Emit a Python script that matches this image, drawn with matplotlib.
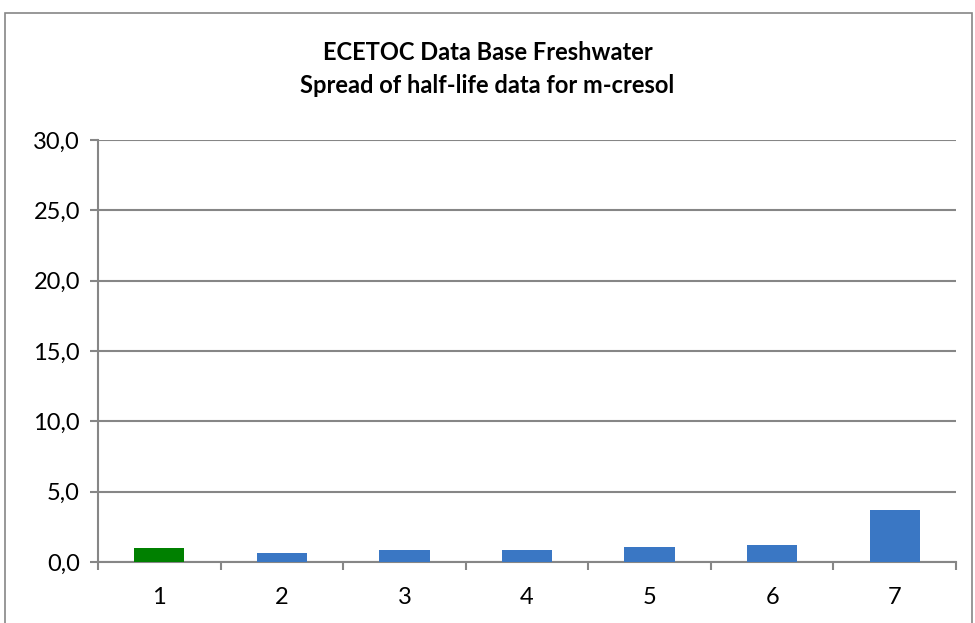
import matplotlib
matplotlib.use("Agg")
import matplotlib.pyplot as plt
from matplotlib.patches import Rectangle
from matplotlib.ticker import FuncFormatter

categories = ["1", "2", "3", "4", "5", "6", "7"]
half_life = [1.0, 0.62, 0.84, 0.84, 1.05, 1.2, 3.7]
bar_colors = ["#008000", "#3A77C4", "#3A77C4", "#3A77C4", "#3A77C4", "#3A77C4", "#3A77C4"]
y_ticks = [0, 5, 10, 15, 20, 25, 30]

plt.rcParams["font.family"] = ["Lato", "DejaVu Sans"]

fig = plt.figure(figsize=(9.75, 6.23), dpi=100)
ax = fig.add_axes([0.1005, 0.098, 0.88, 0.677])

# outer chart border
fig.patches.append(Rectangle((5 / 975, -0.01), 967 / 975, 1 - 13 / 623 + 0.01,
                             transform=fig.transFigure, fill=False,
                             edgecolor="#868686", linewidth=1.2))

pos = list(range(1, len(categories) + 1))
ax.bar(pos, half_life, width=0.41, color=bar_colors, zorder=3)

ax.set_xlim(0.5, len(categories) + 0.5)
ax.set_ylim(0, 30)
ax.set_yticks(y_ticks)
ax.yaxis.set_major_formatter(FuncFormatter(lambda v, p: f"{v:.1f}".replace(".", ",")))
ax.yaxis.grid(True, color="#868686", linewidth=1.5, zorder=0)

ax.set_xticks([p - 0.5 for p in pos] + [len(pos) + 0.5])
ax.set_xticklabels([])
ax.set_xticks(pos, minor=True)
ax.set_xticklabels(categories, minor=True)
ax.tick_params(axis="x", which="major", length=6, width=1.5, color="#868686")
ax.tick_params(axis="x", which="minor", length=0, pad=18, labelsize=17)
ax.tick_params(axis="y", length=6, width=1.5, color="#868686", labelsize=17, pad=7)

for s in ["top", "right"]:
    ax.spines[s].set_visible(False)
for s in ["left", "bottom"]:
    ax.spines[s].set_color("#868686")
    ax.spines[s].set_linewidth(1.5)

fig.text(0.5, 0.889, "ECETOC Data Base Freshwater\nSpread of half-life data for m-cresol",
         ha="center", va="center", fontsize=17, fontweight="bold", linespacing=1.55)

fig.savefig("out.png", dpi=100)
